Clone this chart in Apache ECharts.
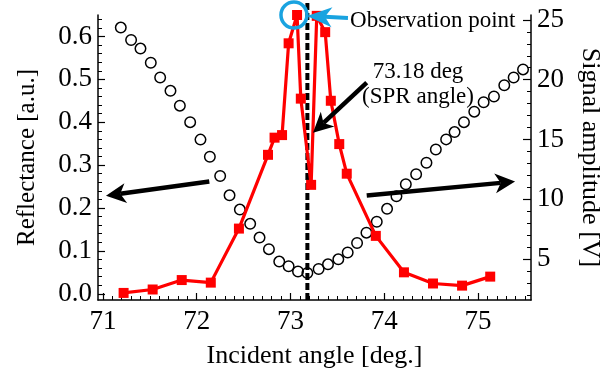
<!DOCTYPE html>
<html>
<head>
<meta charset="utf-8">
<script src="https://cdn.jsdelivr.net/npm/echarts@6/dist/echarts.min.js"></script>
<style>
html,body{margin:0;padding:0;background:#fff;}
#chart{width:613px;height:374px;}
</style>
</head>
<body>
<div id="chart"></div>
<script>
// reflectance, red squares (left axis)
var reflAngle = [71.22, 71.53, 71.84, 72.15, 72.45, 72.76, 72.83, 72.91, 72.98, 73.07, 73.11, 73.22, 73.28, 73.37, 73.43, 73.52, 73.60, 73.91, 74.21, 74.52, 74.83, 75.13];
var reflValue = [0.002, 0.010, 0.032, 0.026, 0.152, 0.324, 0.364, 0.370, 0.584, 0.650, 0.455, 0.254, 0.648, 0.610, 0.450, 0.349, 0.280, 0.135, 0.050, 0.024, 0.019, 0.040];

// signal amplitude, open circles (right axis)
var sigAngle = [71.19, 71.30, 71.40, 71.51, 71.61, 71.72, 71.82, 71.93, 72.04, 72.14, 72.25, 72.35, 72.46, 72.57, 72.67, 72.77, 72.88, 72.98, 73.08, 73.18, 73.30, 73.40, 73.51, 73.61, 73.71, 73.81, 73.92, 74.03, 74.13, 74.23, 74.34, 74.45, 74.55, 74.66, 74.75, 74.85, 74.96, 75.06, 75.17, 75.28, 75.38, 75.48];
var sigValue = [24.36, 23.32, 22.60, 21.42, 20.18, 19.07, 17.83, 16.45, 14.99, 13.56, 11.95, 10.33, 9.14, 7.95, 6.80, 5.83, 4.79, 4.40, 3.96, 3.84, 4.17, 4.56, 4.98, 5.55, 6.35, 7.21, 8.12, 9.20, 10.25, 11.26, 12.09, 13.06, 14.16, 15.01, 15.62, 16.45, 17.33, 18.11, 18.60, 19.54, 20.18, 20.86];

var xTicks = [71, 72, 73, 74, 75];
var leftTicks = [0, 0.1, 0.2, 0.3, 0.4, 0.5, 0.6];
var rightTicks = [5, 10, 15, 20, 25];

var xMin = 70.947, xMax = 75.565;
var leftMin = -0.0145, leftMax = 0.65;
var rightMin = 1.58, rightMax = 25.41;

// annotations (data coords on the left axis): [tailX, tailY, tipX, tipY]
var sprAngle = 73.18;
var obsCircle = [73.037, 0.65];
var blackArrows = [
    [72.134, 0.2617, 71.032, 0.2285],
    [73.813, 0.2294, 75.395, 0.2617],
    [73.813, 0.4925, 73.240, 0.3755]
];
var obsArrow = [[73.613, 0.6432, 73.176, 0.6478]];
var sprLabelPos = [74.36, 0.487];
var obsLabelPos = [73.635, 0.637];

var font = 'Liberation Serif';
var cyan = '#19a3e0';

var chart = echarts.init(document.getElementById('chart'));

function pairs(a, b) {
    return a.map(function (v, i) { return [v, b[i]]; });
}

// shaft + filled notched head, drawn from data coords through the axes
function arrowSeries(rows, color, width, headLen, headHalf) {
    return {
        type: 'custom',
        data: rows,
        encode: { x: [0, 2], y: [1, 3] },
        clip: false,
        silent: true,
        z: 6,
        renderItem: function (params, api) {
            var p0 = api.coord([api.value(0), api.value(1)]);
            var p1 = api.coord([api.value(2), api.value(3)]);
            var dx = p1[0] - p0[0], dy = p1[1] - p0[1];
            var len = Math.sqrt(dx * dx + dy * dy);
            var ux = dx / len, uy = dy / len;
            var nx = -uy, ny = ux;
            var bx = p1[0] - ux * headLen, by = p1[1] - uy * headLen;
            var mx = p1[0] - ux * headLen * 0.72, my = p1[1] - uy * headLen * 0.72;
            return {
                type: 'group',
                children: [
                    {
                        type: 'line',
                        shape: { x1: p0[0], y1: p0[1], x2: mx, y2: my },
                        style: { stroke: color, lineWidth: width }
                    },
                    {
                        type: 'polygon',
                        shape: { points: [
                            [p1[0], p1[1]],
                            [bx + nx * headHalf, by + ny * headHalf],
                            [mx, my],
                            [bx - nx * headHalf, by - ny * headHalf]
                        ] },
                        style: { fill: color }
                    }
                ]
            };
        }
    };
}

var axisCommon = {
    axisLine: { show: true, onZero: false, lineStyle: { color: '#000', width: 1.5 } },
    splitLine: { show: false },
    nameLocation: 'middle',
    nameTextStyle: { fontFamily: font, fontSize: 26, color: '#000' }
};

var option = {
    backgroundColor: '#fff',
    animation: false,
    grid: { left: 98, right: 82, top: 15, bottom: 71 },
    xAxis: Object.assign({}, axisCommon, {
        type: 'value',
        min: xMin,
        max: xMax,
        name: 'Incident angle [deg.]',
        nameGap: 43,
        axisTick: { show: true, inside: true, length: 7, customValues: xTicks, lineStyle: { color: '#000', width: 1.2 } },
        minorTick: { show: true, splitNumber: 10, length: 4, lineStyle: { color: '#000', width: 1 } },
        axisLabel: { customValues: xTicks, fontFamily: font, fontSize: 27, color: '#000', margin: 8 }
    }),
    yAxis: [
        Object.assign({}, axisCommon, {
            type: 'value',
            position: 'left',
            min: leftMin,
            max: leftMax,
            name: 'Reflectance [a.u.]',
            nameGap: 58,
            nameTextStyle: { fontFamily: font, fontSize: 25, color: '#000' },
            axisTick: { show: true, inside: true, length: 7, customValues: leftTicks, lineStyle: { color: '#000', width: 1.2 } },
            minorTick: { show: true, splitNumber: 5, length: 4, lineStyle: { color: '#000', width: 1 } },
            axisLabel: {
                customValues: leftTicks, fontFamily: font, fontSize: 27, color: '#000', margin: 6,
                formatter: function (v) { return v.toFixed(1); }
            }
        }),
        Object.assign({}, axisCommon, {
            type: 'value',
            position: 'right',
            min: rightMin,
            max: rightMax,
            name: 'Signal amplitude [V]',
            nameGap: 46,
            nameRotate: -90,
            axisTick: { show: true, inside: true, length: 8, customValues: rightTicks, lineStyle: { color: '#000', width: 1.2 } },
            minorTick: { show: true, splitNumber: 5, length: 4, lineStyle: { color: '#000', width: 1 } },
            axisLabel: { customValues: rightTicks, fontFamily: font, fontSize: 27, color: '#000', margin: 6 }
        })
    ],
    series: [
        {
            name: 'Signal amplitude',
            type: 'scatter',
            yAxisIndex: 1,
            data: pairs(sigAngle, sigValue),
            symbol: 'circle',
            symbolSize: 10.5,
            itemStyle: { color: 'rgba(255,255,255,0)', borderColor: '#000', borderWidth: 1.5, opacity: 1 },
            z: 2
        },
        {
            name: 'SPR angle',
            type: 'custom',
            data: [[sprAngle, leftMin]],
            encode: { x: 0, y: 1 },
            clip: false,
            z: 3,
            renderItem: function (params, api) {
                var p0 = api.coord([api.value(0), leftMin]);
                var p1 = api.coord([api.value(0), leftMax]);
                return {
                    type: 'line',
                    shape: { x1: p0[0], y1: p0[1], x2: p1[0], y2: p1[1] - 12 },
                    style: { stroke: '#000', lineWidth: 4, lineDash: [7, 3] }
                };
            }
        },
        {
            name: 'Reflectance',
            type: 'line',
            data: pairs(reflAngle, reflValue),
            clip: false,
            symbol: 'rect',
            symbolSize: 10,
            showAllSymbol: true,
            lineStyle: { color: '#ff0000', width: 3.2 },
            itemStyle: { color: '#ff0000' },
            z: 4
        },
        {
            name: 'Observation point',
            type: 'scatter',
            data: [obsCircle],
            clip: false,
            symbol: 'circle',
            symbolSize: 26,
            itemStyle: { color: 'rgba(255,255,255,0)', borderColor: cyan, borderWidth: 3.5, opacity: 1 },
            z: 5
        },
        arrowSeries(blackArrows, '#000', 4.5, 20, 10),
        arrowSeries(obsArrow, cyan, 4, 25, 10)
    ]
};

chart.setOption(option);

var sprPx = chart.convertToPixel({ gridIndex: 0 }, sprLabelPos);
var obsPx = chart.convertToPixel({ gridIndex: 0 }, obsLabelPos);
chart.setOption({
    graphic: [
        {
            type: 'text', x: sprPx[0], y: sprPx[1], z: 10,
            style: { text: sprAngle.toFixed(2) + ' deg\n(SPR angle)', fontFamily: font, fontSize: 23, lineHeight: 25, fill: '#000', align: 'center', verticalAlign: 'middle' }
        },
        {
            type: 'text', x: obsPx[0], y: obsPx[1], z: 10,
            style: { text: 'Observation point', fontFamily: font, fontSize: 23, fill: '#000', align: 'left', verticalAlign: 'middle' }
        }
    ]
});
</script>
</body>
</html>
